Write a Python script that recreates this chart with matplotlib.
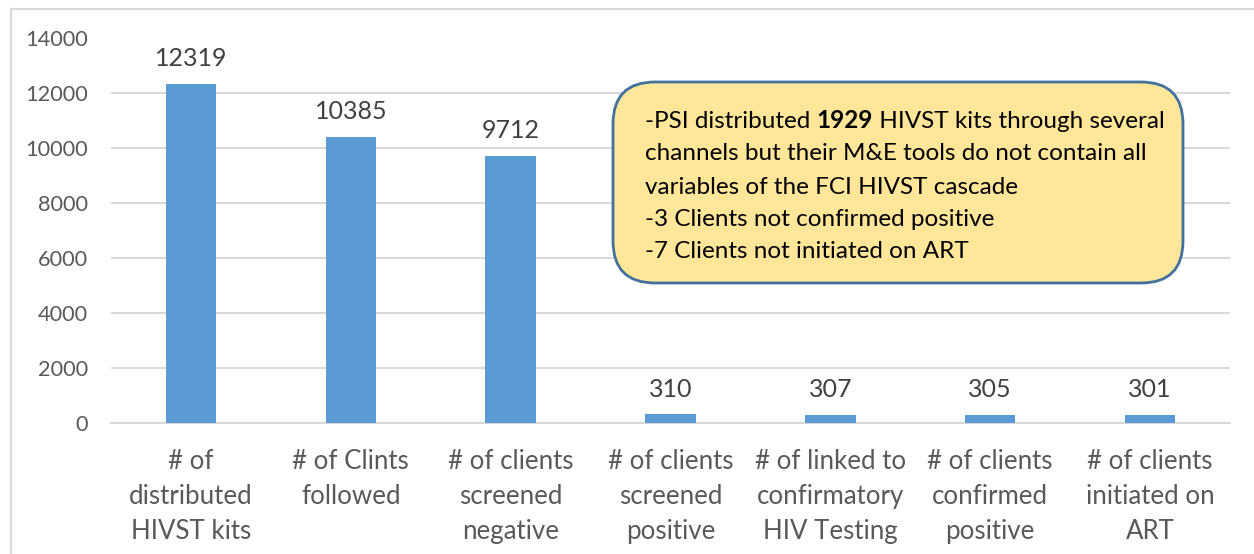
import matplotlib
matplotlib.use("Agg")
import matplotlib.pyplot as plt
from matplotlib.patches import FancyBboxPatch
from matplotlib.lines import Line2D
from matplotlib.text import Annotation

categories = ["# of\ndistributed\nHIVST kits", "# of Clints\nfollowed", "# of clients\nscreened\nnegative",
              "# of clients\nscreened\npositive", "# of linked to\nconfirmatory\nHIV Testing",
              "# of clients\nconfirmed\npositive", "# of clients\ninitiated on\nART"]
values = [12319, 10385, 9712, 310, 307, 305, 301]
yticks = [0, 2000, 4000, 6000, 8000, 10000, 12000, 14000]

plt.rcParams['font.family'] = ['Lato', 'DejaVu Sans']

W, H = 1254, 554
fig = plt.figure(figsize=(W/100, H/100), dpi=100)
fig.patch.set_facecolor('white')

# outer chart frame
fig.add_artist(Line2D([11/W, 11/W], [0, 1 - 9/H], color='#D9D9D9', lw=1.5))
fig.add_artist(Line2D([11/W, 1], [1 - 9/H, 1 - 9/H], color='#D9D9D9', lw=1.5))

left, right = 111/W, 1230/W
bottom, top = (H - 423)/H, (H - 37.5)/H
ax = fig.add_axes([left, bottom, right - left, top - bottom])

x = list(range(len(categories)))
ax.bar(x, values, width=0.315, color='#5B9BD5', zorder=3)
ax.set_xlim(-0.5, len(categories) - 0.5)
ax.set_ylim(0, 14000)
ax.set_yticks(yticks)
ax.set_yticklabels([str(v) for v in yticks], fontsize=15.7, color='#595959')
ax.set_xticks(x)
ax.set_xticklabels(categories, fontsize=18.6, color='#595959', linespacing=1.5)
ax.tick_params(axis='both', length=0)
ax.tick_params(axis='y', pad=16.5)
ax.tick_params(axis='x', pad=18.5)
ax.grid(axis='y', color='#D9D9D9', lw=1.5, zorder=0)
for s in ['top', 'right', 'left']:
    ax.spines[s].set_visible(False)
ax.spines['bottom'].set_color('#D9D9D9')
ax.spines['bottom'].set_linewidth(1.5)

for xi, v in zip(x, values):
    ax.annotate(str(v), (xi, v), xytext=(0, 10), textcoords='offset points',
                ha='center', va='bottom', fontsize=18, color='#404040')

# callout box
bx0, bx1 = 613/W, 1183/W
by0, by1 = (H - 283)/H, (H - 82)/H
box = FancyBboxPatch((bx0, by0), bx1 - bx0, by1 - by0,
                     boxstyle="round,pad=0,rounding_size=%f" % (42/W),
                     mutation_aspect=W/H, transform=fig.transFigure,
                     facecolor='#FFE699', edgecolor='#41719C', lw=2, zorder=5)
fig.add_artist(box)

tx = 645/W
line_y = [122, 154, 187, 220, 252]
fs = 17.5
t1 = fig.text(tx, 1 - line_y[0]/H, "-PSI distributed ", fontsize=fs, va='center', ha='left',
              color='black', zorder=6)
a1 = Annotation("1929", xy=(1, 0), xycoords=t1, va='bottom', ha='left', fontsize=fs,
                fontweight='bold', color='black', annotation_clip=False, zorder=6)
fig.add_artist(a1)
a2 = Annotation(" HIVST kits through several", xy=(1, 0), xycoords=a1, va='bottom', ha='left',
                fontsize=fs, color='black', annotation_clip=False, zorder=6)
fig.add_artist(a2)
rest = ["channels but their M&E tools do not contain all",
        "variables of the FCI HIVST cascade",
        "-3 Clients not confirmed positive",
        "-7 Clients not initiated on ART"]
for yy, s in zip(line_y[1:], rest):
    fig.text(tx, 1 - yy/H, s, fontsize=fs, va='center', ha='left', color='black', zorder=6)

fig.savefig("out.png", dpi=100)
